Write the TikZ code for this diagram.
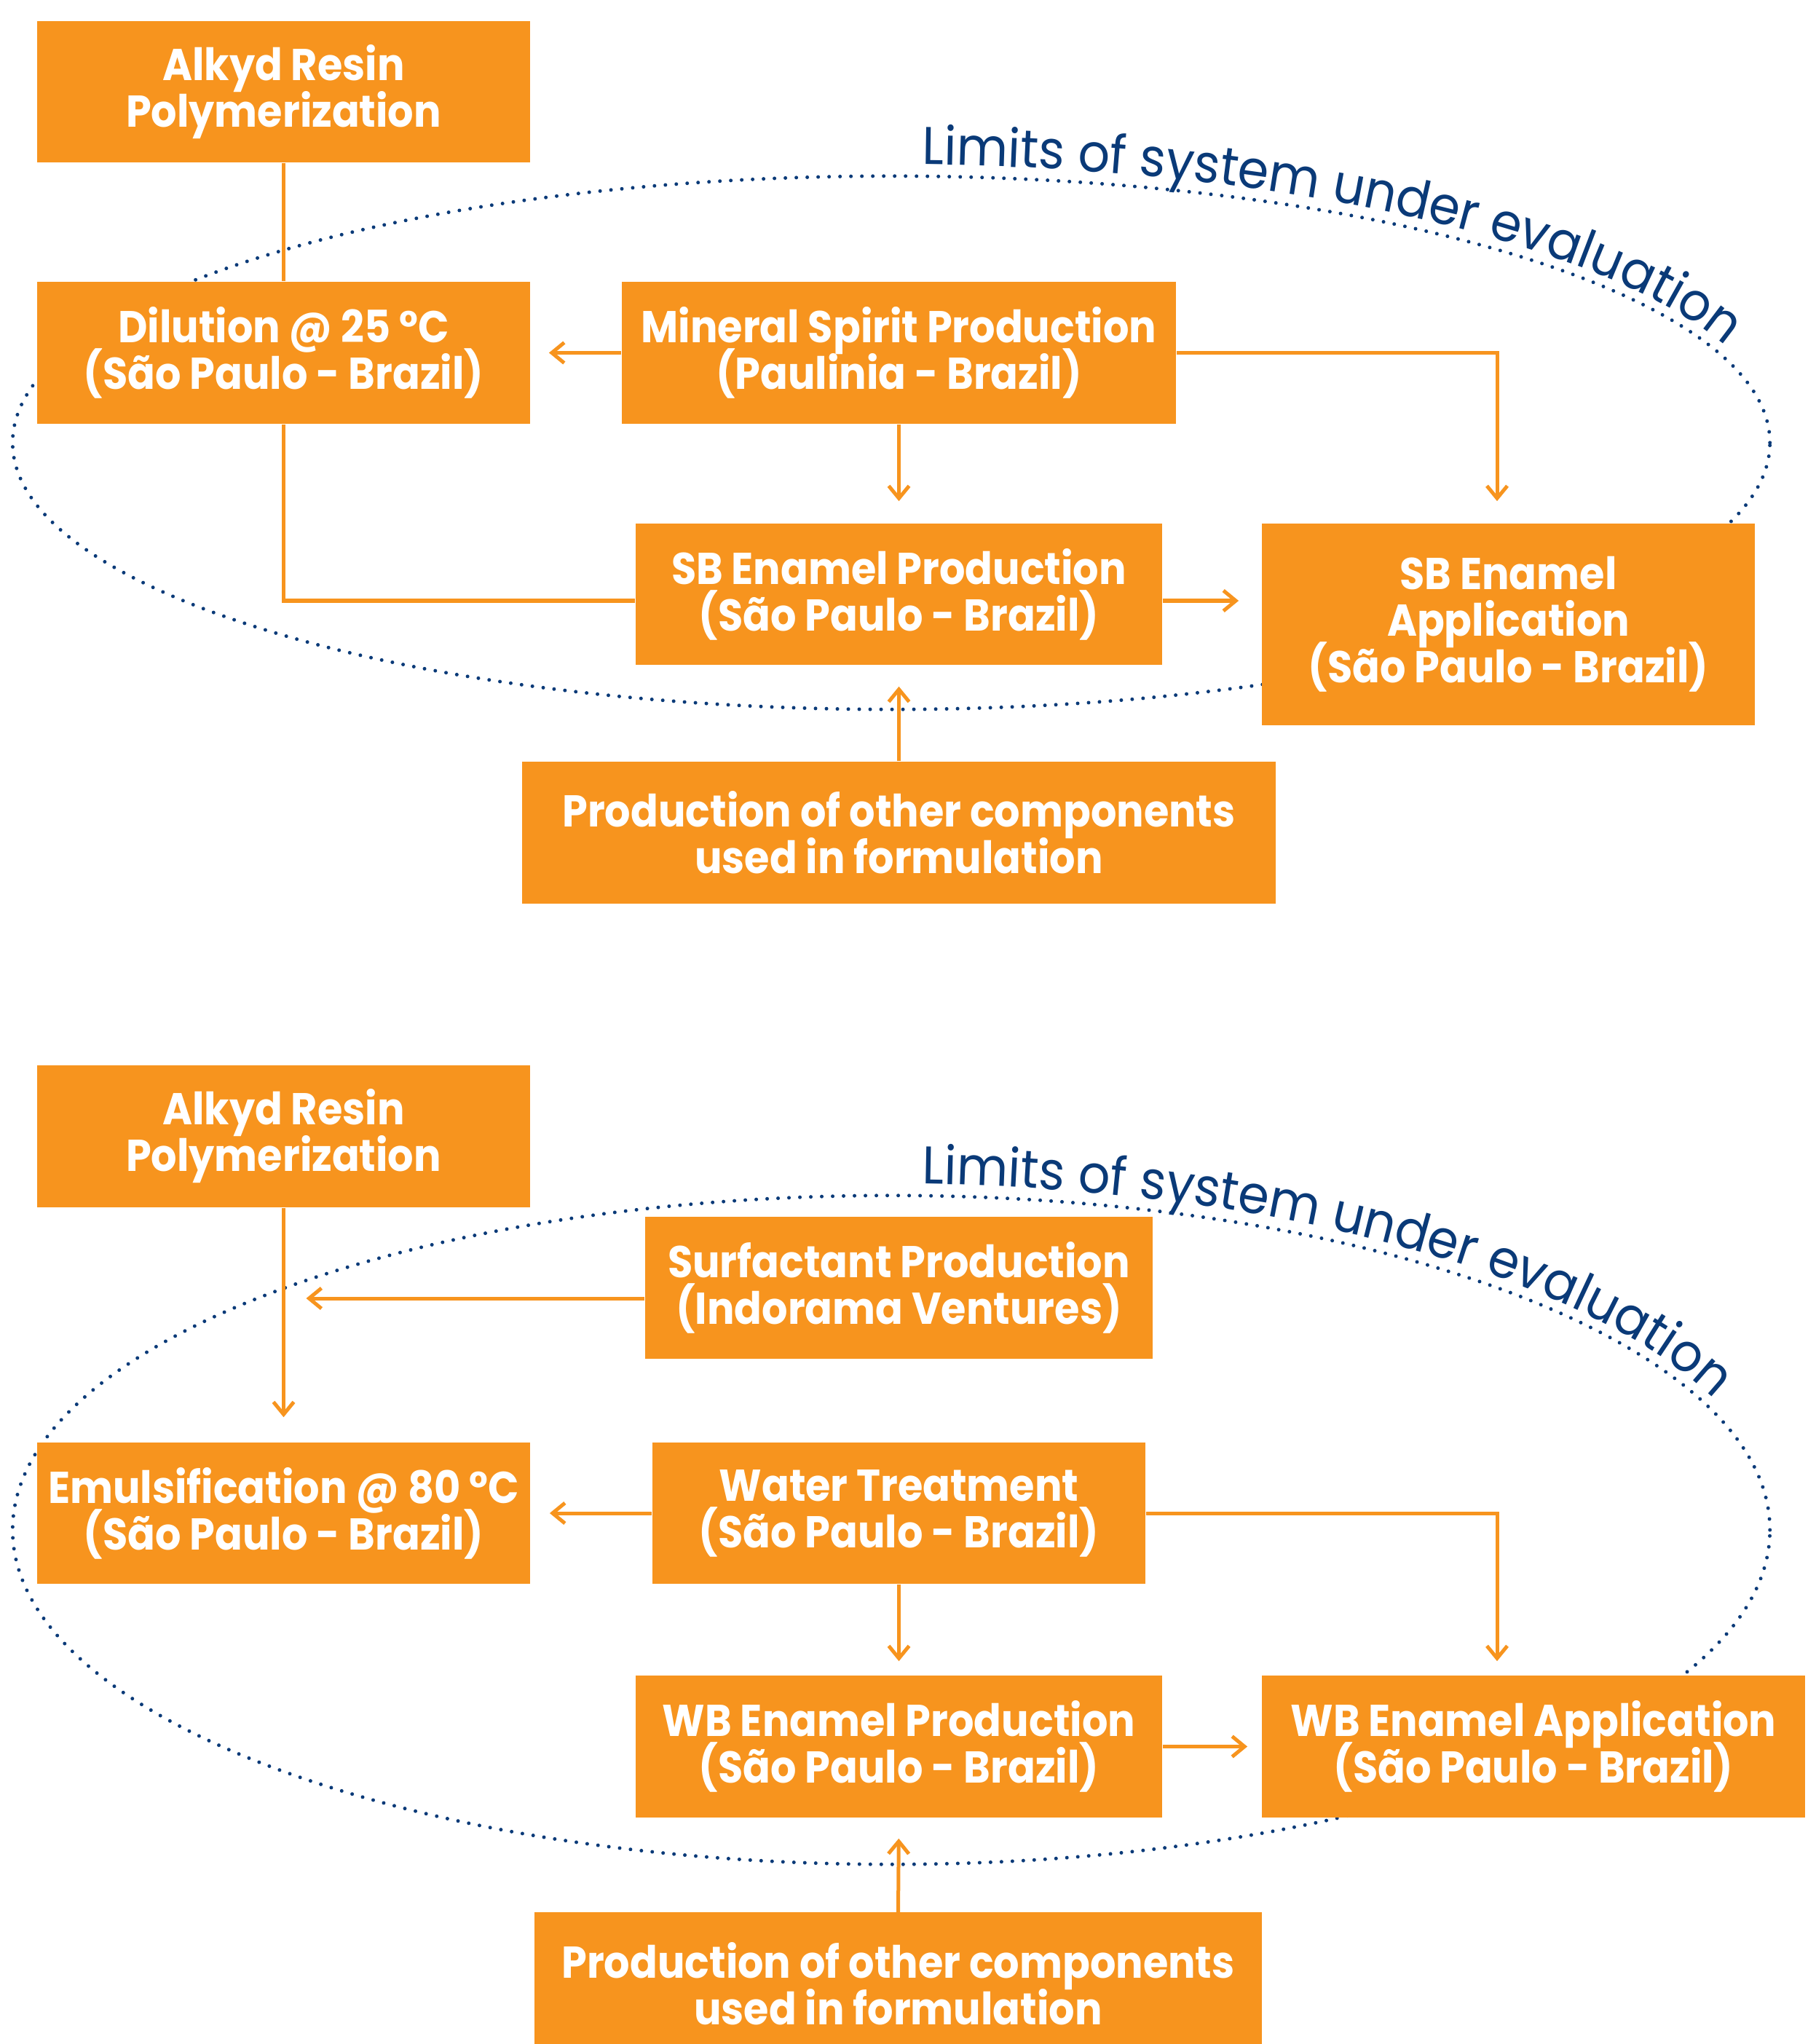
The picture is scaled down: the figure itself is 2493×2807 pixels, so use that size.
\documentclass[tikz,border=0pt]{standalone}
\usepackage{fontspec}
\newfontfamily\boxfont{Poppins}[FakeStretch=0.91]
\newfontfamily\lblfont{Poppins}[FakeStretch=0.94]
\usetikzlibrary{arrows.meta,calc,decorations.text}
\definecolor{orng}{HTML}{F7941E}
\definecolor{navy}{HTML}{0A3A78}
\newcommand\tightlines{\lineskiplimit=-100pt\relax\lineskip=0pt\relax}
\tikzset{
  box/.style={fill=orng, text=white, align=center, inner sep=0pt,
    font=\boxfont\bfseries\fontsize{17.4}{18.2}\selectfont\tightlines},
  conn/.style={draw=orng, line width=0.5mm},
  arr/.style={conn, -{Straight Barb[length=1.7mm,width=2.8mm]}},
  bound/.style={draw=navy, line width=0.5mm, line cap=round, dash pattern=on 0pt off 1.5mm},
  lbl/.style={decorate, decoration={text along path, text color=navy,
    text={|\lblfont\fontsize{20.7}{20.7}\selectfont|Limits of system under evaluation}}}
}
\begin{document}
\begin{tikzpicture}[x=0.01cm, y=0.01cm]
\useasboundingbox (0,0) rectangle (2493,-2807);
% ---------- upper diagram ----------
\draw[bound] (1224,-608) ellipse [x radius=12.06cm, y radius=3.66cm];
\path[lbl] (1224,-608) ++(88:12.2cm and 3.82cm) arc[start angle=88, end angle=0, x radius=12.2cm, y radius=3.82cm];

\node[box, minimum width=67.7mm, minimum height=19.4mm] (A1) at (389.5,-126) {Alkyd Resin\\Polymerization};
\node[box, minimum width=67.7mm, minimum height=19.5mm] (D) at (389.5,-484.5) {Dilution @ 25 °C\\(São Paulo - Brazil)};
\node[box, minimum width=76.1mm, minimum height=19.5mm] (M) at (1234.5,-484.5) {Mineral Spirit Production\\(Paulinia - Brazil)};
\node[box, minimum width=72.3mm, minimum height=19.4mm] (SBP) at (1234.5,-816) {SB Enamel Production\\(São Paulo - Brazil)};
\node[box, minimum width=67.7mm, minimum height=27.7mm] (SBA) at (2071.5,-857.5) {SB Enamel\\Application\\(São Paulo - Brazil)};
\node[box, minimum width=103.5mm, minimum height=19.5mm] (P1) at (1234.5,-1143.5) {Production of other components\\used in formulation};

\coordinate (sbpE) at ($(SBP.east)+(0,-9)$);
\coordinate (sbpW) at ($(SBP.west)+(0,-9)$);
\coordinate (sbaN) at ($(SBA.north)+(-15.5,0)$);
\draw[conn] (A1.south) -- (D.north);
\draw[conn] (D.south) |- (sbpW);
\draw[arr, shorten >=2.5mm] (M.west) -- (D.east);
\draw[arr, shorten >=3mm] (M.south) -- (SBP.north);
\draw[arr, shorten >=3mm] (M.east) -| (sbaN);
\draw[arr, shorten >=3.1mm] (sbpE) -- (sbpE -| SBA.west);
\draw[arr, shorten >=2.9mm] (P1.north) -- (SBP.south);

% ---------- lower diagram ----------
\draw[bound] (1224,-2101) ellipse [x radius=12.06cm, y radius=4.59cm];
\path[lbl] (1224,-2101) ++(88:12.2cm and 4.75cm) arc[start angle=88, end angle=0, x radius=12.2cm, y radius=4.75cm];

\node[box, minimum width=67.7mm, minimum height=19.5mm] (A2) at (389.5,-1560.5) {Alkyd Resin\\Polymerization};
\node[box, minimum width=69.7mm, minimum height=19.5mm] (S) at (1234.5,-1768.5) {Surfactant Production\\(Indorama Ventures)};
\node[box, minimum width=67.7mm, minimum height=19.4mm] (E) at (389.5,-2078) {Emulsification @ 80 °C\\(São Paulo - Brazil)};
\node[box, minimum width=67.7mm, minimum height=19.4mm] (W) at (1234.5,-2078) {Water Treatment\\(São Paulo - Brazil)};
\node[box, minimum width=72.3mm, minimum height=19.5mm] (WBP) at (1234.5,-2398.5) {WB Enamel Production\\(São Paulo - Brazil)};
\node[box, minimum width=74.6mm, minimum height=19.5mm] (WBA) at (2106,-2398.5) {WB Enamel Application\\(São Paulo - Brazil)};
\node[box, minimum width=99.9mm, minimum height=19.5mm] (P2) at (1233.5,-2724) {Production of other components\\used in formulation};

\coordinate (sW) at ($(S.west)+(0,-14.5)$);
\coordinate (wbaN) at ($(WBA.north)+(-50,0)$);
\draw[arr, shorten >=3.4mm] (A2.south) -- (E.north);
\draw[arr, shorten >=3.1mm] (sW) -- (sW -| A2.south);
\draw[arr, shorten >=2.6mm] (W.west) -- (E.east);
\draw[arr, shorten >=1.9mm] (W.south) -- (WBP.north);
\draw[arr, shorten >=1.9mm] (W.east) -| (wbaN);
\draw[arr, shorten >=1.9mm] (WBP.east) -- (WBA.west);
\draw[arr, shorten >=2.8mm] (P2.north) -- (WBP.south);
\end{tikzpicture}
\end{document}
